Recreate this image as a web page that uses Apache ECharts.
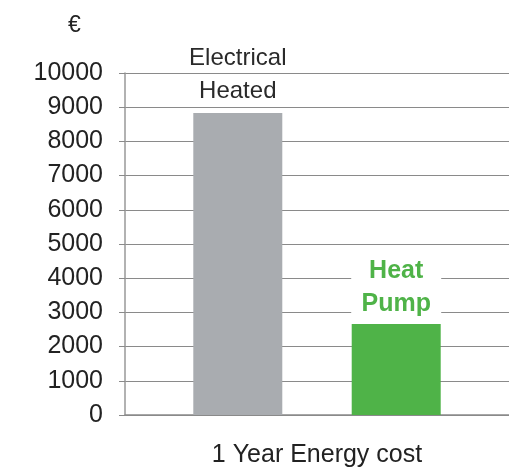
<!DOCTYPE html>
<html>
<head>
<meta charset="utf-8">
<script src="https://cdn.jsdelivr.net/npm/echarts@6/dist/echarts.min.js"></script>
<style>
  html, body { margin: 0; padding: 0; background: #fff; }
  #chart { width: 509px; height: 476px; }
</style>
</head>
<body>
<div id="chart"></div>
<script>
// data
const categories = ['1 Year Energy cost'];
const electricalValues = [8830];
const heatPumpValues = [2660];
const yMin = 0, yMax = 10000, yStep = 1000;

const chart = echarts.init(document.getElementById('chart'));
chart.setOption({
  animation: false,
  textStyle: { fontFamily: 'Liberation Sans, Arial, sans-serif' },
  grid: { left: 125, right: 0, top: 73, bottom: 61 },
  graphic: [{
    type: 'text', left: 68, top: 14,
    style: { text: '€', fill: '#222', font: '23px Liberation Sans' }
  }],
  xAxis: {
    type: 'category',
    data: categories,
    axisLine: { show: true, lineStyle: { color: '#8a8a8a', width: 1.5 } },
    axisTick: { show: false },
    axisLabel: { fontSize: 25, color: '#222', margin: 28 }
  },
  yAxis: {
    type: 'value',
    min: yMin, max: yMax, interval: yStep,
    axisLine: { show: true, lineStyle: { color: '#999', width: 1.5 } },
    axisTick: { show: true, length: 6, lineStyle: { color: '#8a8a8a' } },
    splitLine: { lineStyle: { color: '#8a8a8a', width: 1 } },
    axisLabel: {
      fontSize: 25, color: '#222', margin: 22,
      formatter: function (v) { return String(v); }
    }
  },
  series: [
    {
      name: 'Electrical Heated',
      type: 'bar',
      data: electricalValues,
      barWidth: 89,
      barGap: '78%',
      itemStyle: { color: '#a9acb0' },
      label: {
        show: true, position: 'top', distance: 5,
        formatter: 'Electrical\nHeated',
        fontSize: 24, lineHeight: 33, color: '#2a2a2a'
      }
    },
    {
      name: 'Heat Pump',
      type: 'bar',
      data: heatPumpValues,
      barWidth: 89,
      itemStyle: { color: '#4fb348' },
      label: {
        show: true, position: 'top', distance: 0,
        formatter: 'Heat\nPump',
        fontSize: 25, fontWeight: 'bold', lineHeight: 33, color: '#4fb348',
        backgroundColor: '#fff', width: 90, align: 'center',
        padding: [0, 0, 3, 0]
      }
    }
  ]
});
</script>
</body>
</html>
